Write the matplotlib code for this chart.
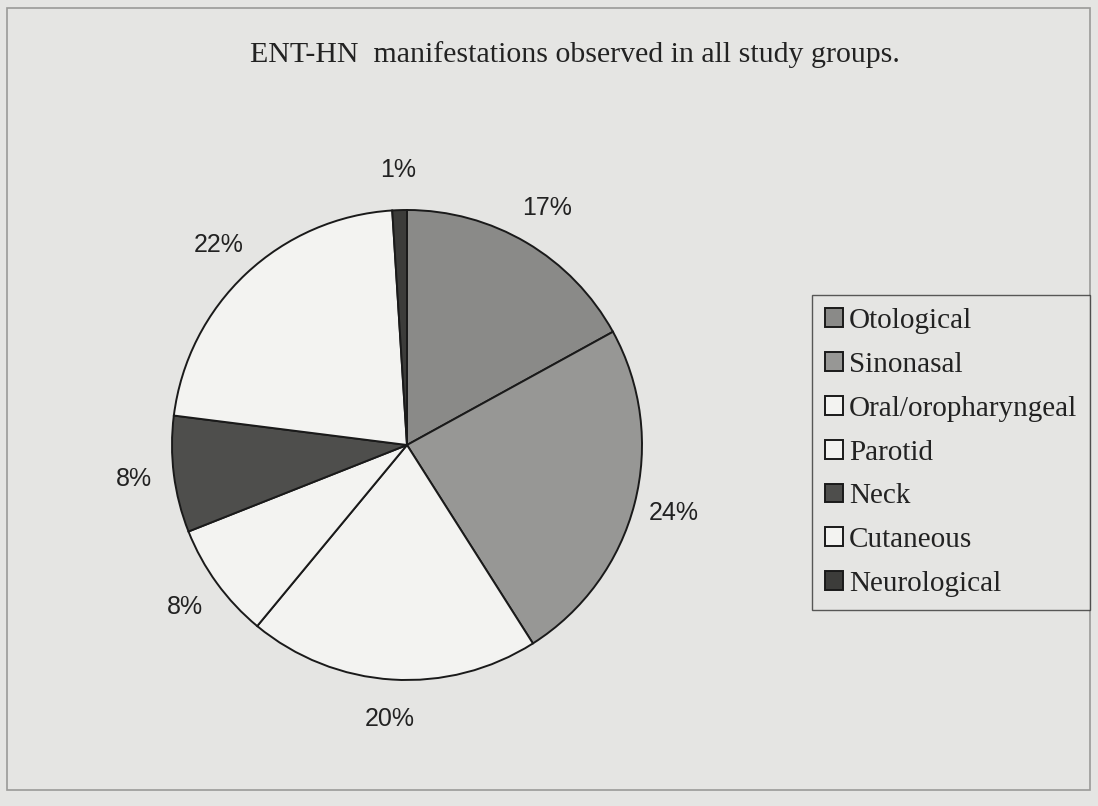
import matplotlib.pyplot as plt
from matplotlib.patches import Rectangle

title = 'ENT-HN  manifestations observed in all study groups.'
categories = ['Otological', 'Sinonasal', 'Oral/oropharyngeal', 'Parotid',
              'Neck', 'Cutaneous', 'Neurological']
percents = [17, 24, 20, 8, 8, 22, 1]
colors = ['#8a8a88', '#979795', '#f3f3f1', '#f3f3f1', '#4e4e4c', '#f3f3f1', '#3c3c3a']

bg = '#e5e5e3'
fig = plt.figure(figsize=(10.98, 8.06), dpi=100, facecolor=bg)

# outer frame of the scanned chart
fig.patches.append(Rectangle((0.006, 0.02), 0.987, 0.97, transform=fig.transFigure,
                             fill=False, edgecolor='#9a9a98', linewidth=1.2))

cx, cy = 407 / 1098, 1 - 445 / 806
rw, rh = 235 / 1098, 235 / 806
ax = fig.add_axes([cx - rw, cy - rh, 2 * rw, 2 * rh])
ax.set_facecolor('none')

wedges, texts, autotexts = ax.pie(
    percents, colors=colors, startangle=90, counterclock=False,
    autopct='%d%%', pctdistance=1.17,
    wedgeprops=dict(edgecolor='#1a1a1a', linewidth=1.4),
    textprops=dict(fontsize=18, family='Liberation Sans', color='#222222'))
for t in autotexts:
    t.set_clip_on(False)
ax.set_xlim(-1, 1)
ax.set_ylim(-1, 1)
ax.set_aspect('equal')

fig.text(575 / 1098, 1 - 55 / 806, title, ha='center', va='center',
         fontsize=21.5, family='Liberation Serif', color='#222222')

leg = fig.legend(wedges, categories, loc='upper left',
                 bbox_to_anchor=(812 / 1098, 1 - 295 / 806),
                 prop=dict(family='Liberation Serif', size=21),
                 handlelength=0.62, handleheight=0.62, handletextpad=0.2,
                 labelspacing=0.61, borderpad=0.45, borderaxespad=0,
                 fancybox=False, frameon=True)
leg.get_frame().set_edgecolor('#333333')
leg.get_frame().set_facecolor(bg)
leg.get_frame().set_linewidth(1.0)
for t in leg.get_texts():
    t.set_color('#222222')

fig.savefig('out.png', dpi=100, facecolor=bg)
